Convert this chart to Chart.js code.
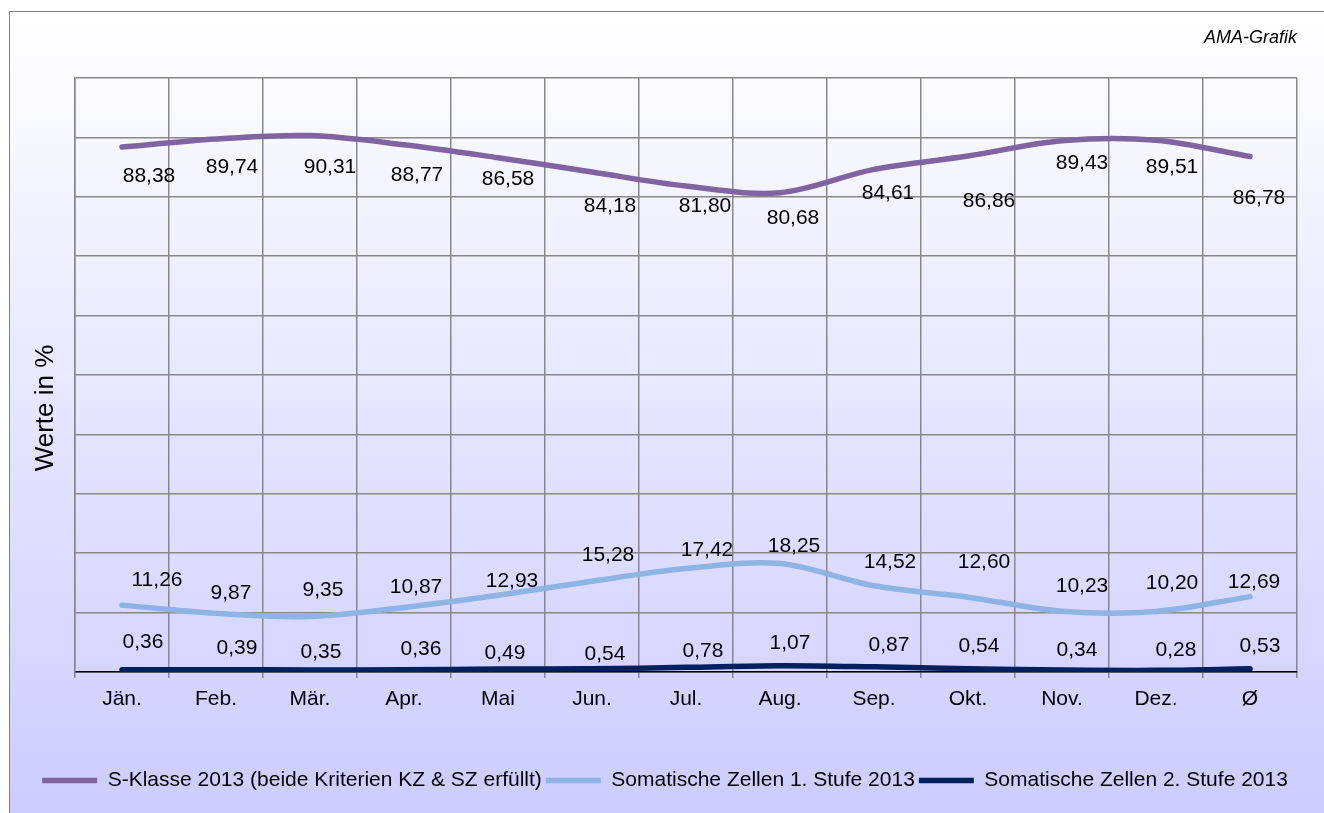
<!DOCTYPE html>
<html>
<head>
<meta charset="utf-8">
<script src="https://cdn.jsdelivr.net/npm/chart.js@4/dist/chart.umd.min.js"></script>
<style>
  html, body { margin: 0; padding: 0; background: #fff; }
  canvas { display: block; }
</style>
</head>
<body>
<canvas id="milkChart" width="1324" height="813"></canvas>
<script>
const months = ["Jän.", "Feb.", "Mär.", "Apr.", "Mai", "Jun.", "Jul.", "Aug.", "Sep.", "Okt.", "Nov.", "Dez.", "Ø"];
const sKlasse = [88.38, 89.74, 90.31, 88.77, 86.58, 84.18, 81.80, 80.68, 84.61, 86.86, 89.43, 89.51, 86.78];
const szStufe1 = [11.26, 9.87, 9.35, 10.87, 12.93, 15.28, 17.42, 18.25, 14.52, 12.60, 10.23, 10.20, 12.69];
const szStufe2 = [0.36, 0.39, 0.35, 0.36, 0.49, 0.54, 0.78, 1.07, 0.87, 0.54, 0.34, 0.28, 0.53];
const seriesNames = [
  "S-Klasse 2013 (beide Kriterien KZ & SZ erfüllt)",
  "Somatische Zellen 1. Stufe 2013",
  "Somatische Zellen 2. Stufe 2013",
];

// label nudges (px from the point), placed by hand like in the original
const labelNudges = [
  [[27, 29], [16, 28], [20, 32], [13, 30], [10, 21], [18, 34], [19, 20], [13, 25], [14, 24], [21, 45], [20, 22], [16, 27], [9, 42]],
  [[35, -25], [15, -20], [13, -26], [12, -20], [14, -14], [16, -26], [21, -18], [14, -17], [16, -24], [16, -35], [20, -25], [16, -28], [4, -14]],
  [[21, -28], [21, -21], [11, -18], [17, -21], [7, -16], [13, -15], [17, -16], [10, -22], [15, -22], [11, -23], [15, -20], [20, -20], [10, -23]],
];

const FONT = "'Liberation Sans', Arial, sans-serif";
const gridColor = "#888888";

const backgroundPlugin = {
  id: "backgroundPlugin",
  beforeDraw(chart) {
    const ctx = chart.ctx;
    ctx.save();
    ctx.fillStyle = "#ffffff";
    ctx.fillRect(0, 0, chart.width, chart.height);
    const grad = ctx.createLinearGradient(0, 11, 0, chart.height);
    grad.addColorStop(0, "#ffffff");
    grad.addColorStop(1, "#ccccff");
    ctx.fillStyle = grad;
    ctx.fillRect(9, 11, chart.width, chart.height);
    ctx.strokeStyle = "#808080";
    ctx.lineWidth = 1;
    ctx.strokeRect(9.5, 11.5, chart.width + 20, chart.height + 20);
    ctx.restore();
  },
};

const axisTitlePlugin = {
  id: "axisTitlePlugin",
  afterDraw(chart) {
    const ctx = chart.ctx;
    ctx.save();
    ctx.translate(46, 408);
    ctx.rotate(-Math.PI / 2);
    ctx.font = "26px " + FONT;
    ctx.fillStyle = "#000";
    ctx.textAlign = "center";
    ctx.textBaseline = "middle";
    ctx.fillText("Werte in %", 0, 0);
    ctx.restore();
  },
};

const valueLabelPlugin = {
  id: "valueLabelPlugin",
  afterDatasetsDraw(chart) {
    const ctx = chart.ctx;
    ctx.save();
    ctx.font = "21px " + FONT;
    ctx.fillStyle = "#000";
    ctx.textAlign = "center";
    ctx.textBaseline = "middle";
    chart.data.datasets.forEach((ds, i) => {
      const meta = chart.getDatasetMeta(i);
      meta.data.forEach((pt, j) => {
        const n = labelNudges[i][j];
        const txt = ds.data[j].toFixed(2).replace(".", ",");
        ctx.fillText(txt, pt.x + n[0], pt.y + n[1]);
      });
    });
    ctx.restore();
  },
};

function lineSet(label, data, color) {
  return {
    label: label,
    data: data,
    borderColor: color,
    backgroundColor: color,
    borderWidth: 5.5,
    borderCapStyle: "round",
    borderJoinStyle: "round",
    tension: 0.33,
    pointRadius: 0,
    pointHoverRadius: 0,
    fill: false,
  };
}

const ctx = document.getElementById("milkChart").getContext("2d");

const chart = new Chart(ctx, {
  type: "line",
  data: {
    labels: months,
    datasets: [
      lineSet(seriesNames[0], sKlasse, "#8064a2"),
      lineSet(seriesNames[1], szStufe1, "#8db4e2"),
      lineSet(seriesNames[2], szStufe2, "#002060"),
    ],
  },
  options: {
    responsive: false,
    devicePixelRatio: 1,
    animation: false,
    layout: {
      padding: { left: 33, right: 27, top: 25, bottom: 12 },
    },
    plugins: {
      title: {
        display: true,
        text: "AMA-Grafik",
        align: "end",
        color: "#000",
        font: { family: FONT, size: 18, style: "italic", weight: "normal" },
        padding: { top: 2, bottom: 29.4 },
      },
      legend: {
        position: "bottom",
        labels: {
          usePointStyle: true,
          pointStyle: "line",
          pointStyleWidth: 55,
          color: "#000",
          padding: 4,
          font: { family: FONT, size: 21 },
        },
      },
      tooltip: { enabled: false },
    },
    scales: {
      x: {
        offset: true,
        grid: {
          offset: true,
          color: gridColor,
          lineWidth: 1.5,
          tickLength: 6,
          tickColor: gridColor,
        },
        border: { color: "#000", width: 1.5 },
        ticks: {
          color: "#000",
          font: { family: FONT, size: 21 },
          padding: 9,
          maxRotation: 0,
          autoSkip: false,
        },
        afterFit(scale) {
          scale.height = 94;
        },
      },
      y: {
        min: 0,
        max: 100,
        ticks: { display: false, stepSize: 10 },
        grid: { color: gridColor, lineWidth: 1.5, drawTicks: false },
        border: { color: gridColor, width: 1.5 },
        afterFit(scale) {
          scale.width = 42;
        },
      },
    },
  },
  plugins: [backgroundPlugin, valueLabelPlugin, axisTitlePlugin],
});
</script>
</body>
</html>
